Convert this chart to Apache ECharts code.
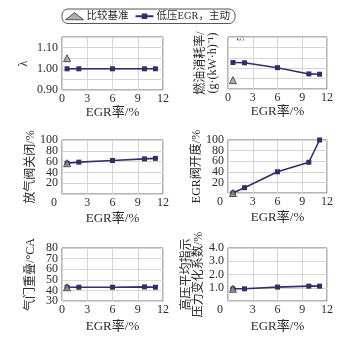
<!DOCTYPE html>
<html>
<head>
<meta charset="utf-8">
<script src="https://cdn.jsdelivr.net/npm/echarts@6/dist/echarts.min.js"></script>
<style>
  html, body { margin: 0; padding: 0; background: #fff; }
  #chart { width: 360px; height: 342px; }
</style>
</head>
<body>
<div id="chart"></div>
<script>
// EGR rate (%) of the operating points
const egrRates = [0.6, 2, 6, 9.8, 11.1];
const baseRates = [0.6];

// Excess air ratio λ
const lambdaEgr = [1.00, 1.00, 1.00, 1.00, 1.00];
const lambdaBase = [1.05];
// Fuel consumption (relative units, axis unlabelled)
const fuelEgr = [2.55, 2.52, 2.05, 1.45, 1.42];
const fuelBase = [0.85];
// Wastegate closing (%)
const wastegateEgr = [57, 59, 62, 65, 66];
const wastegateBase = [57];
// EGR valve opening (%)
const egrValveEgr = [0, 10, 40, 58, 100];
const egrValveBase = [0];
// Valve overlap (°CA)
const overlapEgr = [43, 43, 43, 43.3, 43];
const overlapBase = [43];
// COV of IMEP (%)
const covEgr = [0.92, 0.92, 1.05, 1.12, 1.12];
const covBase = [0.92];

const xTicks = [0, 3, 6, 9, 12];

const SERIF = '"Liberation Serif", "Noto Sans CJK SC", serif';
const TXT = '#2b2b2b';
const LINE = '#2f2f6b';

const panels = [
  { left: 62, top: 37, w: 101, h: 53, egr: lambdaEgr, base: lambdaBase,
    min: 0.9, max: 1.15, step: 0.05, name: 'λ', nameGap: 32,
    fmt: v => (Math.abs(v * 10 - Math.round(v * 10)) < 1e-6 ? v.toFixed(2) : ''),
    xGap: 15, shiftZero: false },
  { left: 228, top: 37, w: 99, h: 52, egr: fuelEgr, base: fuelBase,
    min: 0, max: 5, step: 1, name: '燃油消耗率/\n(g·(kW·h)⁻¹)', nameGap: 9,
    fmt: () => '', xGap: 15, shiftZero: false },
  { left: 62, top: 140, w: 101, h: 54, egr: wastegateEgr, base: wastegateBase,
    min: 0, max: 100, step: 20, name: '放气阀关闭/%', nameGap: 25,
    fmt: v => (v === 0 ? '' : String(v)), xGap: 18, shiftZero: true },
  { left: 228, top: 140, w: 99, h: 53, egr: egrValveEgr, base: egrValveBase,
    min: 0, max: 100, step: 20, name: 'EGR阀开度/%', nameGap: 25,
    fmt: v => (v === 0 ? '' : String(v)), xGap: 18, shiftZero: true },
  { left: 62, top: 248, w: 101, h: 53, egr: overlapEgr, base: overlapBase,
    min: 30, max: 80, step: 10, name: '气门重叠/°CA', nameGap: 25,
    fmt: v => String(v), xGap: 19, shiftZero: false },
  { left: 228, top: 248, w: 99, h: 53, egr: covEgr, base: covBase,
    min: 0, max: 4, step: 1, name: '高压平均指示\n压力变化系数/%', nameGap: 20,
    fmt: v => (v === 0 ? '' : v.toFixed(1)), xGap: 19, shiftZero: true }
];

const labelStyle = { margin: 4, fontFamily: SERIF, fontSize: 12, color: TXT,
  hideOverlap: false, showMinLabel: true, showMaxLabel: true };

const grid = [], xAxis = [], yAxis = [], series = [];
panels.forEach((p, i) => {
  grid.push({ left: p.left, top: p.top, width: p.w, height: p.h,
    show: true, borderColor: '#6a6a6a', borderWidth: 1, backgroundColor: '#fff' });
  xAxis.push({
    gridIndex: i, type: 'value', min: 0, max: 12, interval: 3,
    name: 'EGR率/%', nameLocation: 'middle', nameGap: p.xGap,
    nameTextStyle: { fontFamily: SERIF, fontSize: 13, color: TXT },
    axisLine: { show: false }, axisTick: { show: false },
    splitLine: { show: true, lineStyle: { color: '#d6d6d6', width: 1 } },
    axisLabel: {
      margin: 3, fontFamily: SERIF, fontSize: 12, color: TXT, hideOverlap: false,
      showMinLabel: true, showMaxLabel: true,
      formatter: v => (p.shiftZero && v === 0 ? '{z|0}' : String(v)),
      rich: { z: { fontFamily: SERIF, fontSize: 12, color: TXT, padding: [0, 16, 0, 0] } }
    }
  });
  // tick index from the axis minimum; labels are split over two stacked axes
  // (even / odd ticks) so that closely spaced labels are all kept
  const idx = v => Math.round((v - p.min) / p.step);
  const mainIndex = yAxis.length;
  yAxis.push({
    gridIndex: i, type: 'value', min: p.min, max: p.max, interval: p.step,
    name: p.name, nameLocation: 'middle', nameGap: p.nameGap, nameRotate: 90,
    nameTextStyle: { fontFamily: SERIF, fontSize: 12, color: TXT, lineHeight: 12 },
    axisLine: { show: false }, axisTick: { show: false },
    splitLine: { show: true, lineStyle: { color: '#d6d6d6', width: 1 } },
    axisLabel: Object.assign({}, labelStyle,
      { formatter: v => (idx(v) % 2 === 0 ? p.fmt(v) : '') })
  });
  yAxis.push({
    gridIndex: i, type: 'value', min: p.min, max: p.max, interval: p.step,
    position: 'left',
    axisLine: { show: false }, axisTick: { show: false }, splitLine: { show: false },
    axisLabel: Object.assign({}, labelStyle,
      { formatter: v => (idx(v) % 2 === 1 ? p.fmt(v) : '') })
  });
  series.push({
    name: '低压EGR，主动', type: 'line', xAxisIndex: i, yAxisIndex: mainIndex,
    data: egrRates.map((x, k) => [x, p.egr[k]]),
    symbol: 'rect', symbolSize: 5, clip: false,
    lineStyle: { color: LINE, width: 1.6 },
    itemStyle: { color: LINE }, z: 3
  });
  series.push({
    name: '比较基准', type: 'scatter', xAxisIndex: i, yAxisIndex: mainIndex,
    data: baseRates.map((x, k) => [x, p.base[k]]),
    symbol: 'triangle', symbolSize: 7, clip: false,
    itemStyle: { color: '#9a9a9a', borderColor: '#333', borderWidth: 1 }, z: 4
  });
});

const chart = echarts.init(document.getElementById('chart'), null, { renderer: 'canvas' });
chart.setOption({
  backgroundColor: '#fff',
  animation: false,
  legend: {
    left: 62, top: 9,
    data: [
      { name: '比较基准', icon: 'triangle', itemStyle: { color: '#9a9a9a', borderColor: '#333', borderWidth: 1 } },
      { name: '低压EGR，主动' }
    ],
    itemWidth: 18, itemHeight: 7, itemGap: 6,
    padding: [2, 5, 2, 3],
    borderColor: '#555', borderWidth: 1, borderRadius: 6,
    textStyle: { fontFamily: SERIF, fontSize: 10.5, color: TXT, padding: [0, 0, 0, -2] }
  },
  graphic: [{
    type: 'text', x: 236, y: 41, rotation: Math.PI / 2,
    style: { text: '5', fontFamily: SERIF, fontSize: 10, fill: TXT }
  }],
  grid, xAxis, yAxis, series
});
</script>
</body>
</html>
